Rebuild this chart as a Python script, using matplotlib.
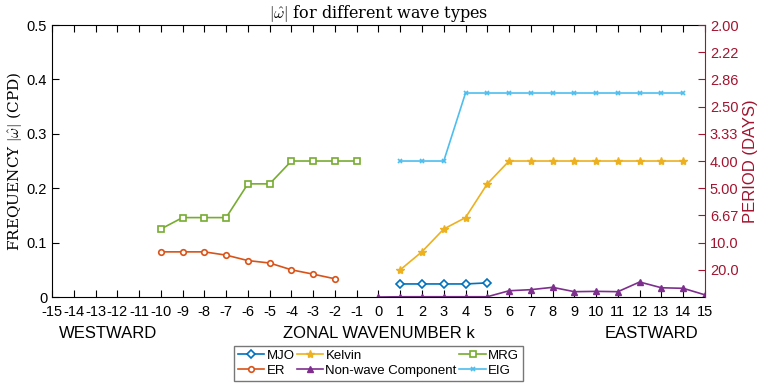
import numpy as np
import matplotlib
matplotlib.use('Agg')
from matplotlib import pyplot as plt

plt.rcParams['font.family'] = ['Liberation Sans', 'DejaVu Sans']
plt.rcParams['mathtext.fontset'] = 'cm'

k_mjo = [1, 2, 3, 4, 5]
f_mjo = [0.024, 0.024, 0.024, 0.024, 0.026]

k_er = [-10, -9, -8, -7, -6, -5, -4, -3, -2]
f_er = [0.083, 0.083, 0.083, 0.077, 0.067, 0.0625, 0.05, 0.042, 0.0335]

k_kelvin = list(range(1, 15))
f_kelvin = [0.05, 0.0833, 0.125, 0.146, 0.208] + [0.25] * 9

k_nonwave = list(range(0, 16))
f_nonwave = [0.0, 0.0005, 0.0005, 0.0005, 0.0005, 0.0005, 0.0115, 0.0135, 0.0178,
             0.0098, 0.0104, 0.0098, 0.0276, 0.017, 0.016, 0.004]

k_mrg = list(range(-10, 0))
f_mrg = [0.125, 0.146, 0.146, 0.146, 0.208, 0.208, 0.25, 0.25, 0.25, 0.25]

k_eig = list(range(1, 15))
f_eig = [0.25, 0.25, 0.25] + [0.375] * 11

xticks = list(range(-15, 16))
yticks = [0, 0.1, 0.2, 0.3, 0.4, 0.5]
yticklabels = ['0', '0.1', '0.2', '0.3', '0.4', '0.5']
period_ticks = [0.05, 0.1, 0.15, 0.2, 0.25, 0.3, 0.35, 0.4, 0.45, 0.5]
period_labels = ['20.0', '10.0', '6.67', '5.00', '4.00', '3.33', '2.50', '2.86', '2.22', '2.00']

c_mjo = '#0072BD'
c_er = '#D95319'
c_kelvin = '#EDB120'
c_nonwave = '#7E2F8E'
c_mrg = '#77AC30'
c_eig = '#4DBEEE'
c_right = '#A2142F'

fig = plt.figure(figsize=(7.58, 3.83), dpi=100)
ax = fig.add_axes([0.0686, 0.2245, 0.8614, 0.7102])

ax.plot(k_mjo, f_mjo, '-D', color=c_mjo, lw=1.2, ms=4, mfc='white', mew=1.2, label='MJO')
ax.plot(k_er, f_er, '-o', color=c_er, lw=1.2, ms=4, mfc='white', mew=1.2, label='ER')
ax.plot(k_kelvin, f_kelvin, '-*', color=c_kelvin, lw=1.2, ms=6, label='Kelvin')
ax.plot(k_nonwave, f_nonwave, '-^', color=c_nonwave, lw=1.2, ms=5, label='Non-wave Component')
ax.plot(k_mrg, f_mrg, '-s', color=c_mrg, lw=1.2, ms=4, mfc='white', mew=1.2, label='MRG')
ax.plot(k_eig, f_eig, '-x', color=c_eig, lw=1.2, ms=3, mew=1.2, label='EIG')

ax.set_xlim(-15, 15)
ax.set_ylim(0, 0.5)
ax.set_xticks(xticks)
ax.set_xticklabels([str(t) for t in xticks])
ax.set_yticks(yticks)
ax.set_yticklabels(yticklabels)
ax.tick_params(axis='x', direction='in', top=True, length=5, labelsize=10.5, pad=6)
ax.tick_params(axis='y', direction='in', length=5, labelsize=10.5)
ax.spines['right'].set_visible(False)
for s in ['left', 'top', 'bottom']:
    ax.spines[s].set_linewidth(0.8)

ax.set_ylabel(r'FREQUENCY $|\hat{\omega}|$ (CPD)', fontsize=11,
              fontname='DejaVu Serif', labelpad=2)
ax.set_title(r'$|\hat{\omega}|$ for different wave types', fontsize=11.5,
             fontname='DejaVu Serif', pad=5)

ax.text(0.5, -0.105, 'ZONAL WAVENUMBER k', transform=ax.transAxes, ha='center', va='top', fontsize=12)
ax.text(0.01, -0.105, 'WESTWARD', transform=ax.transAxes, ha='left', va='top', fontsize=12)
ax.text(0.99, -0.105, 'EASTWARD', transform=ax.transAxes, ha='right', va='top', fontsize=12)

ax2 = ax.twinx()
ax2.set_ylim(0, 0.5)
ax2.set_yticks(period_ticks)
ax2.set_yticklabels(period_labels)
ax2.tick_params(axis='y', direction='in', length=5, colors=c_right, labelsize=10.5)
ax2.spines['right'].set_color(c_right)
ax2.spines['right'].set_linewidth(0.8)
for s in ['left', 'top', 'bottom']:
    ax2.spines[s].set_visible(False)
ax2.set_ylabel('PERIOD (DAYS)', color=c_right, fontsize=12, labelpad=3)

handles, labels = ax.get_legend_handles_labels()
fig.legend(handles, labels, ncol=3, loc='center', bbox_to_anchor=(0.4993, 0.052),
           fontsize=9.5, frameon=True, fancybox=False, edgecolor='#555555',
           handlelength=2.0, handletextpad=0.15, columnspacing=0.2, borderpad=0.3,
           labelspacing=0.2, borderaxespad=0)

fig.savefig('out.png', dpi=100)
